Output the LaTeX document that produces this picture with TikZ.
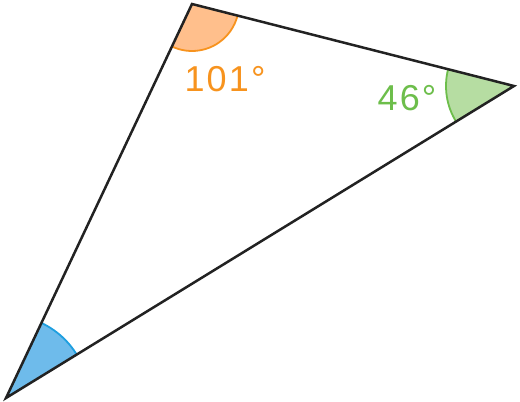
\documentclass[tikz,border=0pt]{standalone}
\usepackage{fontspec}
\setmainfont{Liberation Sans}
\newfontfamily\labelfont[LetterSpace=6]{Liberation Sans}
\usepackage{xcolor}
\usetikzlibrary{angles}
\definecolor{orangefill}{HTML}{FFBF8C}
\definecolor{orangeline}{HTML}{F7931E}
\definecolor{greenfill}{HTML}{B6DDA2}
\definecolor{greenline}{HTML}{6DBE4B}
\definecolor{bluefill}{HTML}{6EBBEB}
\definecolor{blueline}{HTML}{1E9FE0}
\definecolor{edge}{HTML}{222222}
\tikzset{
  anglemark/.style={line width=1.8pt},
  anglelabel/.style={font=\labelfont\fontsize{36}{36}\selectfont, inner sep=0pt}
}

\begin{document}
\begin{tikzpicture}[x=1pt, y=1pt]
        % Triangle with three marked angles
        \useasboundingbox (0,0) rectangle (520,402);
        \coordinate (A) at (192,398);
        \coordinate (B) at (514,316);
        \coordinate (C) at (6,4);
        \pic[anglemark, fill=orangefill, draw=orangeline, angle radius=47pt] {angle=C--A--B};
        \pic[anglemark, fill=greenfill, draw=greenline, angle radius=68pt] {angle=A--B--C};
        \pic[anglemark, fill=bluefill, draw=blueline, angle radius=83pt] {angle=B--C--A};
        \draw[edge, line width=2.5pt] (A) -- (B) -- (C) -- cycle;
        \node[anglelabel, text=orangeline] (angA) at (225,323) {101°};
        \node[anglelabel, text=greenline] (angB) at (407,304) {46°};
    \end{tikzpicture}
\end{document}
